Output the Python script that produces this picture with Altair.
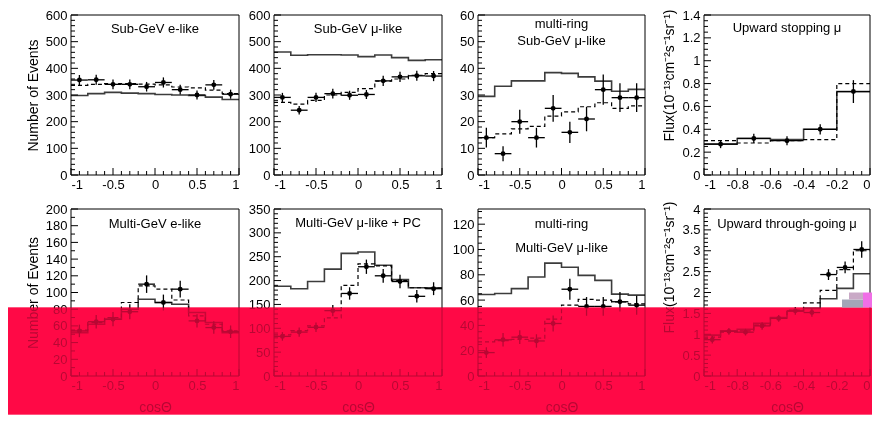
import altair as alt
import pandas as pd

FONT = "Liberation Sans"

# ---------------- bin edges ----------------
E10 = [-1.0, -0.8, -0.6, -0.4, -0.2, 0.0, 0.2, 0.4, 0.6, 0.8, 1.0]
E5 = [-1.0, -0.8, -0.6, -0.4, -0.2, 0.0]
E10U = [-1.0, -0.9, -0.8, -0.7, -0.6, -0.5, -0.4, -0.3, -0.2, -0.1, 0.0]

# ---------------- Sub-GeV e-like ----------------
sge_data = [356, 357, 340, 340, 331, 347, 320, 300, 338, 303]
sge_err = [19, 19, 18, 18, 18, 19, 18, 17, 18, 17]
sge_solid = [298, 305, 310, 307, 305, 302, 300, 298, 292, 283]
sge_dash = [336, 340, 343, 343, 341, 338, 330, 327, 318, 305]

# ---------------- Sub-GeV mu-like ----------------
sgm_data = [291, 243, 291, 305, 299, 302, 353, 368, 372, 371]
sgm_err = [17, 16, 17, 18, 17, 17, 19, 19, 19, 19]
sgm_solid = [461, 449, 451, 451, 450, 444, 450, 440, 430, 432]
sgm_dash = [272, 266, 280, 300, 310, 324, 352, 360, 374, 380]

# ---------------- multi-ring Sub-GeV mu-like ----------------
mrs_data = [14, 8, 20, 14, 25, 16, 21, 32, 29, 29]
mrs_err = [3.7, 2.8, 4.5, 3.7, 5.0, 4.0, 4.6, 5.7, 5.4, 5.4]
mrs_solid = [29.5, 33.3, 35.3, 35.3, 38.4, 38.1, 36.8, 35.2, 31.4, 32.1]
mrs_dash = [14.0, 15.4, 17.3, 18.2, 22.1, 23.7, 25.6, 27.1, 25.0, 25.9]

# ---------------- Upward stopping mu ----------------
ust_data = [0.27, 0.32, 0.30, 0.40, 0.73]
ust_err = [0.035, 0.04, 0.04, 0.045, 0.10]
ust_solid = [0.27, 0.32, 0.31, 0.40, 0.73]
ust_dash = [0.30, 0.28, 0.30, 0.31, 0.80]

# ---------------- Multi-GeV e-like ----------------
mge_data = [54, 65, 68, 77, 110, 88, 104, 66, 58, 53]
mge_err = [7.5, 8, 8.5, 9, 10.5, 9.5, 10, 8, 7.5, 7.5]
mge_solid = [52, 62, 68, 80, 92, 88, 86, 76, 64, 52]
mge_dash = [55, 64, 70, 88, 108, 104, 91, 72, 62, 54]

# ---------------- Multi-GeV mu-like + PC ----------------
mgm_data = [83, 92, 102, 137, 173, 229, 210, 198, 167, 183]
mgm_err = [9, 9.5, 10, 12, 13, 15, 14.5, 14, 13, 13.5]
mgm_solid = [188, 183, 198, 224, 257, 260, 232, 202, 185, 185]
mgm_dash = [86, 95, 105, 122, 190, 235, 231, 200, 185, 184]

# ---------------- multi-ring Multi-GeV mu-like ----------------
mrm_data = [18.5, 28.6, 30.7, 27.7, 41.5, 68.6, 55, 55, 58.7, 56]
mrm_err = [4.3, 5.3, 5.5, 5.3, 6.4, 8.3, 7.4, 7.4, 7.7, 7.5]
mrm_solid = [64.4, 65.2, 69.1, 78.2, 89.2, 86.0, 79.5, 75.6, 64.7, 63.9]
mrm_dash = [27, 28, 29, 30, 45, 56, 60.5, 60, 58.5, 57]

# ---------------- Upward through-going mu ----------------
uth_data = [0.87, 1.07, 1.05, 1.20, 1.38, 1.56, 1.52, 2.43, 2.60, 3.03]
uth_err = [0.09, 0.08, 0.08, 0.09, 0.08, 0.09, 0.10, 0.13, 0.14, 0.20]
uth_solid = [0.98, 1.08, 1.12, 1.26, 1.40, 1.55, 1.62, 1.85, 2.10, 2.45]
uth_dash = [0.93, 1.05, 1.08, 1.22, 1.38, 1.58, 1.75, 2.05, 2.55, 3.00]

# ---------------- axis tick labels ----------------
X_FULL = [-1, -0.5, 0, 0.5, 1]
X_HALF = [-1, -0.8, -0.6, -0.4, -0.2, 0]
Y600 = [0, 100, 200, 300, 400, 500, 600]
Y60 = [0, 10, 20, 30, 40, 50, 60]
Y14 = [0, 0.2, 0.4, 0.6, 0.8, 1, 1.2, 1.4]
Y200 = [0, 20, 40, 60, 80, 100, 120, 140, 160, 180, 200]
Y350 = [0, 50, 100, 150, 200, 250, 300, 350]
Y120 = [0, 20, 40, 60, 80, 100, 120]
Y4 = [0, 0.5, 1, 1.5, 2, 2.5, 3, 3.5, 4]

FLUX_TITLE = "Flux(10\u207b\u00b9\u00b3cm\u207b\u00b2s\u207b\u00b9sr\u207b\u00b9)"


def minor(lo, hi, step, majors):
    out = []
    n = int(round((hi - lo) / step))
    for i in range(n + 1):
        v = round(lo + i * step, 6)
        if v <= hi + 1e-9 and all(abs(v - m) > 1e-9 for m in majors):
            out.append(v)
    return out


ONE = pd.DataFrame({"k": [0]})


def make_panel(edges, data, err, solid, dash, ydom, ymaj, ystep, xmaj, xstep,
               texts, W, FW, H, ytitle="", xtitle="", flux_y=None, extra=()):
    xs = alt.Scale(domain=[edges[0], edges[-1]], range=[0, FW], nice=False, zero=False)
    ys = alt.Scale(domain=ydom, nice=False, zero=False)
    xaxis = alt.Axis(values=xmaj, labelExpr="'' + datum.value", title=xtitle,
                     ticks=False, tickSize=0, domain=False, grid=False,
                     labelPadding=3, titlePadding=8)
    yargs = dict(values=ymaj, labelExpr="'' + datum.value", title=ytitle,
                 ticks=False, tickSize=0, domain=False, grid=False,
                 labelPadding=4, titlePadding=5)
    if flux_y is not None:
        yargs.update(titleAnchor="end", titleAlign="right", titleY=flux_y)
    yaxis = alt.Axis(**yargs)

    cen = [(a + b) / 2 for a, b in zip(edges[:-1], edges[1:])]
    pts = pd.DataFrame({
        "c": cen, "v": data,
        "lo": [v - e for v, e in zip(data, err)],
        "hi": [v + e for v, e in zip(data, err)],
        "x0": edges[:-1], "x1": edges[1:],
    })
    sdf = pd.DataFrame({"e": edges, "v": list(solid) + [solid[-1]]})
    ddf = pd.DataFrame({"e": edges, "v": list(dash) + [dash[-1]]})

    X = lambda f: alt.X(f, scale=xs, axis=xaxis)
    Y = lambda f: alt.Y(f, scale=ys, axis=yaxis)

    layers = []
    layers.append(alt.Chart(sdf).mark_line(interpolate="step-after", color="#3c3c3c",
                                           strokeWidth=1.6)
                  .encode(x=X("e:Q"), y=Y("v:Q")))
    layers.append(alt.Chart(ddf).mark_line(interpolate="step-after", color="black",
                                           strokeWidth=1.2, strokeDash=[4, 3])
                  .encode(x=X("e:Q"), y=Y("v:Q")))
    layers.append(alt.Chart(pts).mark_rule(color="black", strokeWidth=1.3)
                  .encode(x=X("c:Q"), y=Y("lo:Q"), y2="hi:Q"))
    layers.append(alt.Chart(pts).mark_rule(color="black", strokeWidth=1.3)
                  .encode(x=X("x0:Q"), x2="x1:Q", y=Y("v:Q")))
    layers.append(alt.Chart(pts).mark_circle(size=24, color="black", opacity=1)
                  .encode(x=X("c:Q"), y=Y("v:Q")))

    # inward ticks
    ymin = minor(ydom[0], ydom[1], ystep, ymaj)
    xmin = minor(edges[0], edges[-1], xstep, xmaj)
    layers.append(alt.Chart(pd.DataFrame({"t": ymaj})).mark_rule(color="black", strokeWidth=1)
                  .encode(y=Y("t:Q"), x=alt.value(0), x2=alt.value(7)))
    layers.append(alt.Chart(pd.DataFrame({"t": ymin})).mark_rule(color="black", strokeWidth=1)
                  .encode(y=Y("t:Q"), x=alt.value(0), x2=alt.value(4)))
    layers.append(alt.Chart(pd.DataFrame({"t": xmaj})).mark_rule(color="black", strokeWidth=1)
                  .encode(x=X("t:Q"), y=alt.value(H), y2=alt.value(H - 7)))
    layers.append(alt.Chart(pd.DataFrame({"t": xmin})).mark_rule(color="black", strokeWidth=1)
                  .encode(x=X("t:Q"), y=alt.value(H), y2=alt.value(H - 4)))

    # frame
    layers.append(alt.Chart(ONE).mark_rect(fillOpacity=0, stroke="black", strokeWidth=1)
                  .encode(x=alt.value(0), x2=alt.value(FW), y=alt.value(0), y2=alt.value(H)))
    # panel labels
    for txt, ty in texts:
        layers.append(alt.Chart(ONE).mark_text(text=txt, font=FONT, fontSize=13, color="black",
                                               align="center", baseline="middle")
                      .encode(x=alt.value(FW / 2), y=alt.value(ty)))
    layers.extend(extra)
    return alt.layer(*layers).properties(width=W, height=H)


HT = 160
HB = 167
FWS = [168, 168, 167, 166]
WS = [203, 204, 226, 166]

# phantom extents to control the layout
top_phantom = (alt.Chart(ONE).mark_rule(opacity=0, color="white")
               .encode(x=alt.value(-63), y=alt.value(0), y2=alt.value(HT + 20)))
bot_phantom = (alt.Chart(ONE).mark_rule(opacity=0, color="white")
               .encode(x=alt.value(20), y=alt.value(-10), y2=alt.value(0)))

# overlay band (drawn in the last panel, relative to its frame)
RED = "#ff0a46"
red_mult = (alt.Chart(ONE).mark_rect(color=RED, blend="multiply")
            .encode(x=alt.value(-696), x2=alt.value(168), y=alt.value(98.5), y2=alt.value(205.5)))
red_band = (alt.Chart(ONE).mark_rect(color=RED, opacity=0.72)
            .encode(x=alt.value(-696), x2=alt.value(168), y=alt.value(98.5), y2=alt.value(205.5)))
patch1 = (alt.Chart(ONE).mark_rect(color="#a3a6b8")
          .encode(x=alt.value(138), x2=alt.value(159), y=alt.value(90.5), y2=alt.value(98.5)))
patch2 = (alt.Chart(ONE).mark_rect(color="#c9a9c6")
          .encode(x=alt.value(145), x2=alt.value(159), y=alt.value(83.5), y2=alt.value(90.5)))
patch3 = (alt.Chart(ONE).mark_rect(color="#f06ee6")
          .encode(x=alt.value(159), x2=alt.value(168), y=alt.value(83.5), y2=alt.value(98.5)))

p1 = make_panel(E10, sge_data, sge_err, sge_solid, sge_dash, [0, 600], Y600, 20, X_FULL, 0.1,
                [("Sub-GeV e-like", 13.5)], WS[0], FWS[0], HT, ytitle="Number of Events",
                extra=[top_phantom])
p2 = make_panel(E10, sgm_data, sgm_err, sgm_solid, sgm_dash, [0, 600], Y600, 20, X_FULL, 0.1,
                [("Sub-GeV \u03bc-like", 13.5)], WS[1], FWS[1], HT)
p3 = make_panel(E10, mrs_data, mrs_err, mrs_solid, mrs_dash, [0, 60], Y60, 2, X_FULL, 0.1,
                [("multi-ring", 8.5), ("Sub-GeV \u03bc-like", 26)], WS[2], FWS[2], HT)
p4 = make_panel(E5, ust_data, ust_err, ust_solid, ust_dash, [0, 1.4], Y14, 0.05, X_HALF, 0.05,
                [("Upward stopping \u03bc", 12.5)], WS[3], FWS[3], HT,
                ytitle=FLUX_TITLE, flux_y=-6)

p5 = make_panel(E10, mge_data, mge_err, mge_solid, mge_dash, [0, 200], Y200, 10, X_FULL, 0.1,
                [("Multi-GeV e-like", 14.5)], WS[0], FWS[0], HB,
                ytitle="Number of Events", xtitle="cos\u0398", extra=[bot_phantom])
p6 = make_panel(E10, mgm_data, mgm_err, mgm_solid, mgm_dash, [0, 350], Y350, 10, X_FULL, 0.1,
                [("Multi-GeV \u03bc-like + PC", 13.7)], WS[1], FWS[1], HB, xtitle="cos\u0398")
p7 = make_panel(E10, mrm_data, mrm_err, mrm_solid, mrm_dash, [0, 132], Y120, 5, X_FULL, 0.1,
                [("multi-ring", 15), ("Multi-GeV \u03bc-like", 38.5)], WS[2], FWS[2], HB,
                xtitle="cos\u0398")
p8 = make_panel(E10U, uth_data, uth_err, uth_solid, uth_dash, [0, 4], Y4, 0.1, X_HALF, 0.05,
                [("Upward through-going \u03bc", 15)], WS[3], FWS[3], HB,
                ytitle=FLUX_TITLE, xtitle="cos\u0398", flux_y=-8,
                extra=[red_mult, red_band, patch1, patch2, patch3])

row1 = alt.hconcat(p1, p2, p3, p4, spacing=0, bounds="flush")
row2 = alt.hconcat(p5, p6, p7, p8, spacing=0, bounds="flush")

chart = (alt.vconcat(row1, row2, spacing=4)
         .properties(padding=0, background="white")
         .configure_view(strokeWidth=0)
         .configure_axis(labelFont=FONT, titleFont=FONT, labelFontSize=13, titleFontSize=14,
                         labelColor="black", titleColor="black", titleFontWeight="normal"))

chart.save("out.html", embed_options={"renderer": "svg", "actions": False})
